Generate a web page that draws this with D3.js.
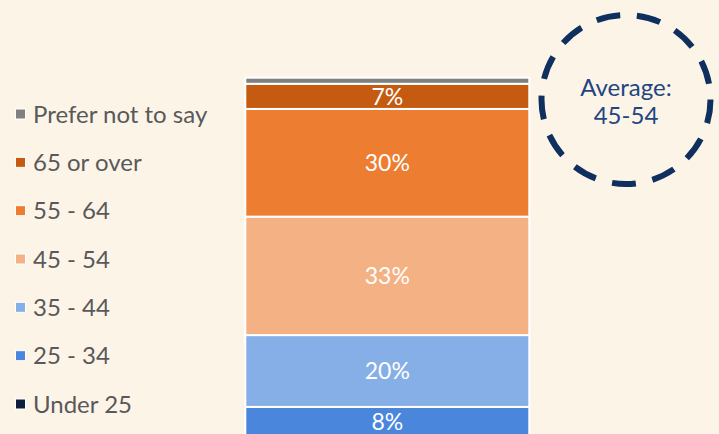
<!DOCTYPE html>
<html>
<head>
<meta charset="utf-8">
<script src="https://cdn.jsdelivr.net/npm/d3@7"></script>
<style>
  html, body { margin: 0; padding: 0; background: #FDF4E8; }
  svg { display: block; }
  text { font-family: Lato, "Open Sans", sans-serif; }
</style>
</head>
<body>
<svg id="chart" width="719" height="434"></svg>
<script>
// Age groups, bottom of the stack first
const categories = ["Under 25", "25 - 34", "35 - 44", "45 - 54", "55 - 64", "65 or over", "Prefer not to say"];
const shares = [0.3, 8, 20, 33, 30, 7, 1.7];
const colors = ["#0E1F3D", "#4A86DB", "#86AEE7", "#F4B183", "#ED7D31", "#C55A11", "#808080"];
const valueLabels = ["", "8%", "20%", "33%", "30%", "7%", ""];
const averageText = ["Average:", "45-54"];

const svg = d3.select("#chart");

// Cumulative stack from the bottom up
const stack = [];
let acc = 0;
categories.forEach((c, i) => {
  stack.push({ cat: c, value: shares[i], y0: acc, y1: acc + shares[i], color: colors[i], label: valueLabels[i] });
  acc += shares[i];
});
const total = acc;

const pxPerPoint = 3.59;
const barTop = 77.7;
const x = d3.scaleBand().domain(["all"]).range([245.3, 529.3]).padding(0);
const y = d3.scaleLinear().domain([0, total]).range([barTop + total * pxPerPoint, barTop]);

const bar = svg.append("g");
bar.selectAll("rect")
  .data(stack)
  .join("rect")
  .attr("x", x("all"))
  .attr("width", x.bandwidth())
  .attr("y", d => y(d.y1))
  .attr("height", d => y(d.y0) - y(d.y1))
  .attr("fill", d => d.color)
  .attr("stroke", "#ffffff")
  .attr("stroke-width", 2);

bar.selectAll("text")
  .data(stack.filter(d => d.label))
  .join("text")
  .attr("x", x("all") + x.bandwidth() / 2)
  .attr("y", d => (y(d.y0) + y(d.y1)) / 2)
  .attr("dy", "0.36em")
  .attr("text-anchor", "middle")
  .attr("fill", "#ffffff")
  .attr("font-size", 23)
  .text(d => d.label);

// Legend, top entry = top of the stack
const legendItems = categories.slice().reverse();
const legendColors = colors.slice().reverse();
const ly = d3.scalePoint().domain(legendItems).range([114, 404]);
const legend = svg.append("g");
legend.selectAll("rect")
  .data(legendItems)
  .join("rect")
  .attr("x", 15.5)
  .attr("y", d => ly(d) - 5)
  .attr("width", 10)
  .attr("height", 10)
  .attr("fill", (d, i) => legendColors[i])
  .attr("stroke", "#ffffff")
  .attr("stroke-width", 1);
legend.selectAll("text")
  .data(legendItems)
  .join("text")
  .attr("x", 33)
  .attr("y", d => ly(d))
  .attr("dy", "0.36em")
  .attr("fill", "#595959")
  .attr("font-size", 24)
  .text(d => d);

// Dashed callout circle with the average band
const callout = svg.append("g").attr("transform", "translate(626,99.5)");
callout.append("circle")
  .attr("r", 84.5)
  .attr("fill", "none")
  .attr("stroke", "#0F2F5E")
  .attr("stroke-width", 6)
  .attr("stroke-dasharray", "24 16.85");
callout.selectAll("text")
  .data(averageText)
  .join("text")
  .attr("x", 0)
  .attr("y", (d, i) => -3.8 + i * 28.3)
  .attr("text-anchor", "middle")
  .attr("fill", "#1F4682")
  .attr("font-size", 24)
  .text(d => d);
</script>
</body>
</html>
